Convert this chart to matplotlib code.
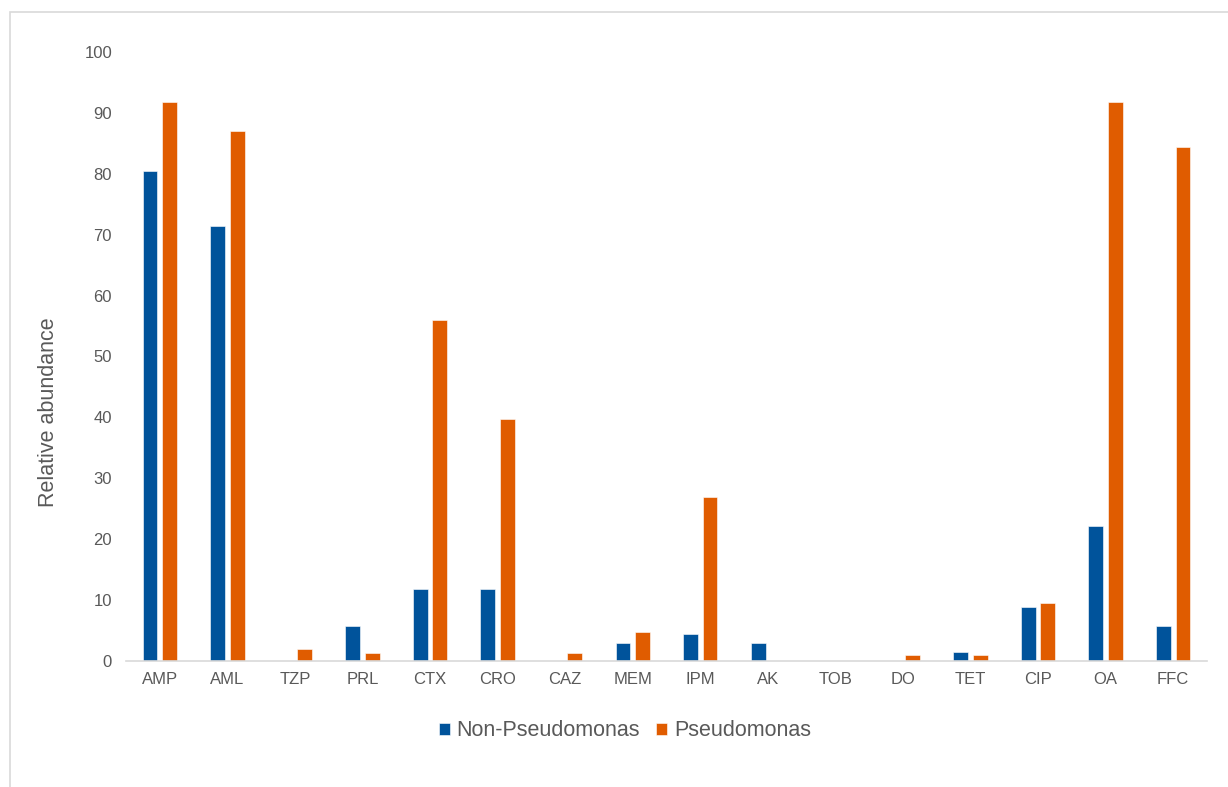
import matplotlib.pyplot as plt
import numpy as np
from matplotlib.patches import Rectangle

plt.rcParams['font.family'] = ['Liberation Sans', 'DejaVu Sans']

categorias = ['AMP', 'AML', 'TZP', 'PRL', 'CTX', 'CRO', 'CAZ', 'MEM',
              'IPM', 'AK', 'TOB', 'DO', 'TET', 'CIP', 'OA', 'FFC']
non_pseudomonas = [80.5, 71.5, 0, 5.8, 11.9, 11.9, 0, 3.0,
                   4.4, 3.0, 0, 0, 1.5, 8.9, 22.2, 5.8]
pseudomonas = [91.8, 87.0, 2.0, 1.3, 56.0, 39.8, 1.3, 4.8,
               26.9, 0, 0, 1.0, 1.0, 9.5, 91.8, 84.4]

azul = '#00539B'
naranja = '#E05C00'
gris = '#595959'

fig = plt.figure(figsize=(12.28, 7.87), dpi=100)
# marco gris claro alrededor del grafico
fig.patches.append(Rectangle((10 / 1228, -0.01), 1.0, 1 - 12 / 787 + 0.01,
                             transform=fig.transFigure, fill=False,
                             edgecolor='#D9D9D9', linewidth=1.2))

ax = fig.add_axes([126 / 1228, 1 - 661 / 787, (1207 - 126) / 1228, (661 - 52) / 787])

x = np.arange(len(categorias))
ancho = 0.22
ax.bar(x - 0.144, non_pseudomonas, ancho, color=azul, label='Non-Pseudomonas',
       edgecolor='white', linewidth=0.4)
ax.bar(x + 0.144, pseudomonas, ancho, color=naranja, label='Pseudomonas',
       edgecolor='white', linewidth=0.4)

ax.set_xlim(-0.5, len(categorias) - 0.5)
ax.set_ylim(0, 100)
ax.set_yticks(range(0, 101, 10))
ax.set_xticks(x)
ax.set_xticklabels(categorias)
ax.tick_params(axis='both', length=0, labelsize=12, colors=gris)
ax.tick_params(axis='y', pad=10)
ax.tick_params(axis='x', pad=8)

for lado in ['top', 'right', 'left']:
    ax.spines[lado].set_visible(False)
ax.spines['bottom'].set_color('#D9D9D9')
ax.spines['bottom'].set_linewidth(1.2)

# la etiqueta del eje Y esta algo por debajo del centro
ax.set_ylabel('Relative abundance', fontsize=15.5, color=gris)
ax.yaxis.set_label_coords(-67 / 1081, 249 / 609)

ax.legend(loc='center', bbox_to_anchor=(625 / 1228, 1 - 731 / 787),
          bbox_transform=fig.transFigure, ncol=2, frameon=False,
          fontsize=15.5, labelcolor=gris, handlelength=0.5, handleheight=0.5,
          handletextpad=0.33, columnspacing=0.75)

plt.savefig('out.png', dpi=100)
